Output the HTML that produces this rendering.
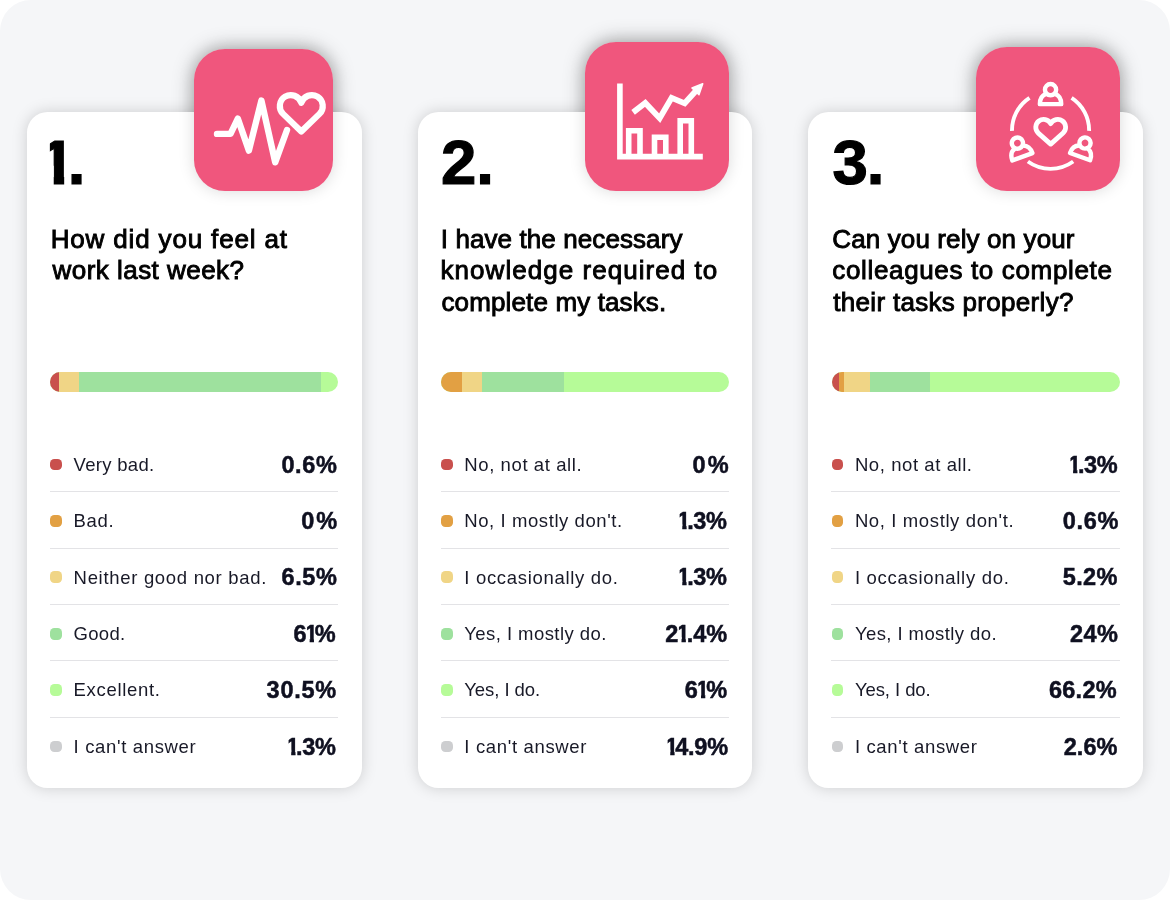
<!DOCTYPE html>
<html lang="en">
<head>
<meta charset="utf-8">
<title>Survey results</title>
<style>
*{box-sizing:border-box;margin:0;padding:0}
html,body{width:1170px;height:900px;background:#fff;overflow:hidden}
body{font-family:"Liberation Sans",sans-serif;color:#000}
.page{position:absolute;left:0;top:0;width:1170px;height:900px;background:#f5f6f8;border-radius:31px;overflow:hidden;will-change:transform}
.card{position:absolute;top:112px;width:334.6px;height:676px;background:#fff;border-radius:20.5px;box-shadow:0 0 15px rgba(0,0,0,.17)}
.bsh{position:absolute;border-radius:31px;box-shadow:0 0 22px rgba(0,0,0,.31)}
.badge{position:absolute;background:#f0567d;border-radius:31px;box-shadow:0 0 16px rgba(0,0,0,.15)}
.badge svg{position:absolute;left:0;top:0;width:100%;height:100%}
.num{position:absolute;font-weight:bold;font-size:63.5px;line-height:70px;white-space:nowrap;-webkit-text-stroke:1.2px #000}
.title span{position:absolute;font-weight:normal;-webkit-text-stroke:.9px #000;font-size:26px;line-height:32px;white-space:nowrap}
.bar{position:absolute;left:23.3px;top:259.7px;width:288px;height:20px;border-radius:10px;overflow:hidden;background:#b6fb98}
.bar i{position:absolute;top:0;height:20px}
.rows{position:absolute;left:23px;top:323.8px;width:288.4px}
.row{position:relative;height:56.4px;border-bottom:1.2px solid #e3e3e6}
.row.last{border-bottom:none}
.dot{position:absolute;left:.4px;top:22.9px;width:11.8px;height:11.7px;border-radius:4.4px}
.lab{position:absolute;left:23.6px;font-size:18.5px;line-height:22px;color:#181927;white-space:nowrap}
.pct{position:absolute;font-size:23.5px;line-height:28px;font-weight:bold;color:#0f1020;-webkit-text-stroke:.5px #0f1020;white-space:nowrap}
.pct b{display:inline-block;clip-path:polygon(2.4px 0,9.3px 0,9.3px 100%,5px 100%,5px 62%,2.4px 62%);margin:0 -2.9px 0 -1.8px}
.one{display:inline-block;clip-path:polygon(10.5px 0,24.5px 0,24.5px 100%,14.3px 100%,14.3px 55%,10.5px 55%);transform:scaleX(1.03);transform-origin:0 0;margin-right:-6.8px}
.r{background:#c9504d}.o{background:#e2a043}.y{background:#f0d586}.g{background:#9ee19e}.l{background:#b6fb98}.n{background:#cdced0}
</style>
</head>
<body>
<div class="page">
<div class="bsh" style="left:194.2px;top:49.1px;width:138.5px;height:142.2px"></div>
<div class="bsh" style="left:585px;top:42px;width:144px;height:149px"></div>
<div class="bsh" style="left:976px;top:47px;width:143.6px;height:144px"></div>

<div class="card" style="left:27px">
  <div class="num" id="num0" style="left:12.15px;top:15.2px"><b class="one">1</b>.</div>
  <div class="title">
    <span id="t0_0" style="left:23.7px;top:110.69px;letter-spacing:0.84px">How did you feel at</span>
    <span id="t0_1" style="left:25.5px;top:142.29px;letter-spacing:0.47px">work last week?</span>
  </div>
  <div class="bar"><i class="r" style="left:0px;width:8.5px"></i><i class="y" style="left:8.5px;width:20px"></i><i class="g" style="left:28.5px;width:242.5px"></i></div>
  <div class="rows">
    <div class="row"><span class="dot r"></span><span class="lab" id="l0_0" style="top:18.09px;letter-spacing:0.3px">Very bad.</span><span class="pct" id="p0_0" style="top:14.76px;left:231.4px;letter-spacing:0.63px">0.6%</span></div>
    <div class="row"><span class="dot o"></span><span class="lab" id="l0_1" style="top:18.09px;letter-spacing:0.63px">Bad.</span><span class="pct" id="p0_1" style="top:14.76px;left:251.3px;letter-spacing:2px">0%</span></div>
    <div class="row"><span class="dot y"></span><span class="lab" id="l0_2" style="top:18.09px;letter-spacing:0.69px">Neither good nor bad.</span><span class="pct" id="p0_2" style="top:14.76px;left:231.4px;letter-spacing:0.68px">6.5%</span></div>
    <div class="row"><span class="dot g"></span><span class="lab" id="l0_3" style="top:18.09px;letter-spacing:0.28px">Good.</span><span class="pct" id="p0_3" style="top:14.76px;left:243.4px;letter-spacing:0px">6<b>1</b>%</span></div>
    <div class="row"><span class="dot l"></span><span class="lab" id="l0_4" style="top:18.09px;letter-spacing:0.67px">Excellent.</span><span class="pct" id="p0_4" style="top:14.76px;left:216.6px;letter-spacing:0.75px">30.5%</span></div>
    <div class="row last"><span class="dot n"></span><span class="lab" id="l0_5" style="top:18.09px;letter-spacing:0.66px">I can't answer</span><span class="pct" id="p0_5" style="top:14.76px;left:238px;letter-spacing:-0.3px"><b>1</b>.3%</span></div>
  </div>
</div>
<div class="card" style="left:417.7px">
  <div class="num" id="num1" style="left:23.3px;top:15.2px;letter-spacing:0px">2.</div>
  <div class="title">
    <span id="t1_0" style="left:23.1px;top:110.69px;letter-spacing:0.09px">I have the necessary</span>
    <span id="t1_1" style="left:22.8px;top:142.29px;letter-spacing:1.05px">knowledge required to</span>
    <span id="t1_2" style="left:23.8px;top:173.79px;letter-spacing:0.13px">complete my tasks.</span>
  </div>
  <div class="bar"><i class="o" style="left:0px;width:20.8px"></i><i class="y" style="left:20.8px;width:20.5px"></i><i class="g" style="left:41.3px;width:81.6px"></i></div>
  <div class="rows">
    <div class="row"><span class="dot r"></span><span class="lab" id="l1_0" style="top:18.09px;letter-spacing:0.6px">No, not at all.</span><span class="pct" id="p1_0" style="top:14.76px;left:251.9px;letter-spacing:2px">0%</span></div>
    <div class="row"><span class="dot o"></span><span class="lab" id="l1_1" style="top:18.09px;letter-spacing:0.58px">No, I mostly don't.</span><span class="pct" id="p1_1" style="top:14.76px;left:238.4px;letter-spacing:-0.34px"><b>1</b>.3%</span></div>
    <div class="row"><span class="dot y"></span><span class="lab" id="l1_2" style="top:18.09px;letter-spacing:0.69px">I occasionally do.</span><span class="pct" id="p1_2" style="top:14.76px;left:238.4px;letter-spacing:-0.34px"><b>1</b>.3%</span></div>
    <div class="row"><span class="dot g"></span><span class="lab" id="l1_3" style="top:18.09px;letter-spacing:0.44px">Yes, I mostly do.</span><span class="pct" id="p1_3" style="top:14.76px;left:224.6px;letter-spacing:-0.03px">2<b>1</b>.4%</span></div>
    <div class="row"><span class="dot l"></span><span class="lab" id="l1_4" style="top:18.09px;letter-spacing:-0.07px">Yes, I do.</span><span class="pct" id="p1_4" style="top:14.76px;left:244px;letter-spacing:0px">6<b>1</b>%</span></div>
    <div class="row last"><span class="dot n"></span><span class="lab" id="l1_5" style="top:18.09px;letter-spacing:0.66px">I can't answer</span><span class="pct" id="p1_5" style="top:14.76px;left:226.4px;letter-spacing:-0.25px"><b>1</b>4.9%</span></div>
  </div>
</div>
<div class="card" style="left:808.3px">
  <div class="num" id="num2" style="left:24.2px;top:15.2px;letter-spacing:-1px">3.</div>
  <div class="title">
    <span id="t2_0" style="left:24px;top:110.69px;letter-spacing:0.12px">Can you rely on your</span>
    <span id="t2_1" style="left:24px;top:142.29px;letter-spacing:0.65px">colleagues to complete</span>
    <span id="t2_2" style="left:25px;top:173.79px;letter-spacing:0.3px">their tasks properly?</span>
  </div>
  <div class="bar"><i class="r" style="left:0px;width:7.4px"></i><i class="o" style="left:7.4px;width:4.6px"></i><i class="y" style="left:12px;width:26.4px"></i><i class="g" style="left:38.4px;width:59.6px"></i></div>
  <div class="rows">
    <div class="row"><span class="dot r"></span><span class="lab" id="l2_0" style="top:18.09px;letter-spacing:0.58px">No, not at all.</span><span class="pct" id="p2_0" style="top:14.76px;left:238.6px;letter-spacing:-0.36px"><b>1</b>.3%</span></div>
    <div class="row"><span class="dot o"></span><span class="lab" id="l2_1" style="top:18.09px;letter-spacing:0.62px">No, I mostly don't.</span><span class="pct" id="p2_1" style="top:14.76px;left:231.5px;letter-spacing:0.69px">0.6%</span></div>
    <div class="row"><span class="dot y"></span><span class="lab" id="l2_2" style="top:18.09px;letter-spacing:0.71px">I occasionally do.</span><span class="pct" id="p2_2" style="top:14.76px;left:231.5px;letter-spacing:0.33px">5.2%</span></div>
    <div class="row"><span class="dot g"></span><span class="lab" id="l2_3" style="top:18.09px;letter-spacing:0.42px">Yes, I mostly do.</span><span class="pct" id="p2_3" style="top:14.76px;left:238.6px;letter-spacing:0.5px">24%</span></div>
    <div class="row"><span class="dot l"></span><span class="lab" id="l2_4" style="top:18.09px;letter-spacing:-0.07px">Yes, I do.</span><span class="pct" id="p2_4" style="top:14.76px;left:217.7px;letter-spacing:0.25px">66.2%</span></div>
    <div class="row last"><span class="dot n"></span><span class="lab" id="l2_5" style="top:18.09px;letter-spacing:0.65px">I can't answer</span><span class="pct" id="p2_5" style="top:14.76px;left:232.5px;letter-spacing:0px">2.6%</span></div>
  </div>
</div>
<div class="badge" id="b1" style="left:194.2px;top:49.1px;width:138.5px;height:142.2px">
<svg viewBox="0 0 138.5 142.2" fill="none" stroke="#fff" stroke-width="6.4" stroke-linecap="round" stroke-linejoin="round">
<polyline points="23,84.9 36.5,84.9 43.8,69.6 54.9,101.6 67.4,51.5 81.2,113.3 93,81"/>
<path d="M107.3,82.6 L89.1,64.9 A11.0,11.0 0 1 1 107.3,53.7 A11.0,11.0 0 1 1 125.5,64.9 Z" stroke-width="6.2"/>
</svg>
</div>

<div class="badge" id="b2" style="left:585px;top:42px;width:144px;height:149px">
<svg viewBox="0 0 144 149" fill="none" stroke="#fff" stroke-width="5.6" stroke-linecap="butt" stroke-linejoin="miter">
<path d="M34.9,41.5 V114.65 H117.8"/>
<path d="M43.7,114 V88.8 H55 V114 M69.5,114 V95.2 H80.800 V114 M95.2,114 V78.8 H106.3 V114"/>
<polyline points="48.1,70.4 60.3,61 74.7,76.3 86.6,55.8 99.7,61.3 111.5,48.3" stroke-width="5.8"/>
<polygon points="117.7,41.7 107,45.9 114,52.6" fill="#fff" stroke-width="1.6" stroke-linejoin="round"/>
</svg>
</div>

<div class="badge" id="b3" style="left:976px;top:47px;width:143.6px;height:144px">
<svg viewBox="0 0 143.6 144" fill="none" stroke="#fff" stroke-width="3.9" stroke-linecap="round" stroke-linejoin="round">
<path d="M36.0,83.9 A38.6,38.6 0 0 1 53.5,50.9 M95.6,50.9 A38.6,38.6 0 0 1 113.1,83.9 M97.2,114.5 A38.6,38.6 0 0 1 51.9,114.5" stroke-linecap="butt"/>
<path d="M74.7,97.1 L62.3,86.1 A7.9,7.9 0 1 1 74.7,76.7 A7.9,7.9 0 1 1 87.1,86.1 Z" stroke-width="4.8"/>
<g stroke-width="4.4">
<g transform="translate(74.55,42.65)"><circle r="5.6"/><path d="M-4.2,4.2 C-8.6,5.6 -10.7,9.4 -10.7,14.5 H10.7 C10.7,9.4 8.6,5.600 4.2,4.2"/></g>
<g transform="translate(41.4,96.1) rotate(-20)"><circle r="5.6"/><path d="M-4.2,4.2 C-8.6,5.6 -10.7,9.4 -10.7,14.5 H10.7 C10.7,9.4 8.6,5.600 4.2,4.2"/></g>
<g transform="translate(109,96) rotate(20)"><circle r="5.6"/><path d="M-4.2,4.2 C-8.6,5.6 -10.7,9.4 -10.7,14.5 H10.7 C10.7,9.4 8.6,5.600 4.2,4.2"/></g>
</g>
</svg>
</div>

</div>
</body>
</html>
